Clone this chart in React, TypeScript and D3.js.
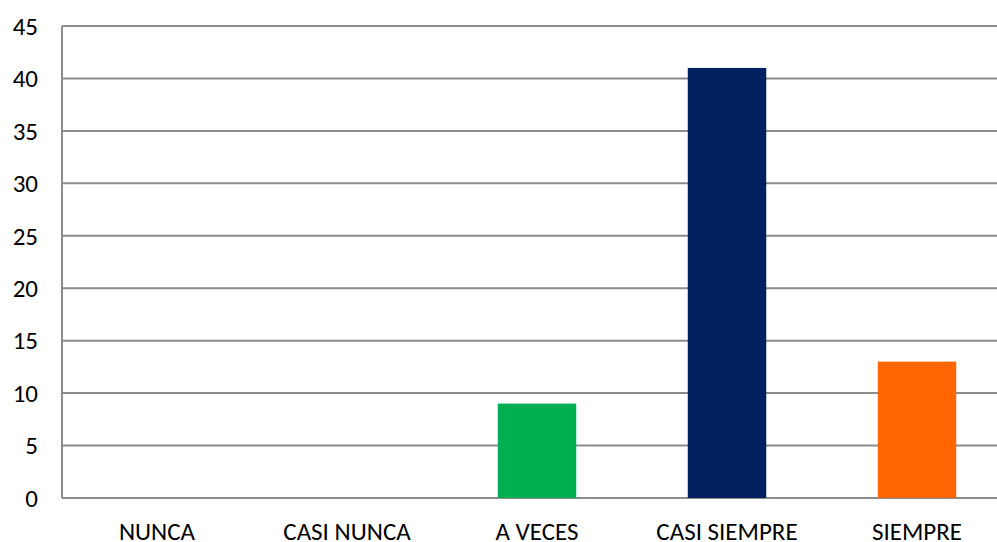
import React from "react";
import * as d3 from "d3";

const categories = ["NUNCA", "CASI NUNCA", "A VECES", "CASI SIEMPRE", "SIEMPRE"];
const values = [0, 0, 9, 41, 13];
const barColors = ["#4472c4", "#ed7d31", "#00b050", "#002060", "#ff6600"];
const yTicks = [0, 5, 10, 15, 20, 25, 30, 35, 40, 45];

const width = 997;
const height = 542;
const margin = { top: 26, right: -15, bottom: 44, left: 62 };

export default function App() {
  const x = d3
    .scaleBand()
    .domain(categories)
    .range([margin.left, width - margin.right])
    .paddingInner(0.587)
    .paddingOuter(0.2935);
  const y = d3
    .scaleLinear()
    .domain([0, 45])
    .range([height - margin.bottom, margin.top]);

  const font = "Carlito, Calibri, 'Liberation Sans', Arial, sans-serif";

  return (
    <svg
      width={width}
      height={height}
      style={{ position: "absolute", left: 0, top: 0, background: "#fff" }}
      fontFamily={font}
    >
      {yTicks.map((t) => (
        <g key={t}>
          <line
            x1={margin.left}
            x2={width}
            y1={y(t)}
            y2={y(t)}
            stroke="#8c8c8c"
            strokeWidth={2}
          />
          <text
            x={38}
            y={y(t)}
            dy="0.35em"
            textAnchor="end"
            fontSize={25}
            fill="#000"
          >
            {t}
          </text>
        </g>
      ))}
      <line
        x1={margin.left}
        x2={margin.left}
        y1={y(45)}
        y2={y(0)}
        stroke="#8c8c8c"
        strokeWidth={2}
      />
      {categories.map((c, i) => (
        <rect
          key={c}
          x={x(c)}
          y={y(values[i])}
          width={x.bandwidth()}
          height={y(0) - y(values[i])}
          fill={barColors[i]}
        />
      ))}
      {categories.map((c) => (
        <text
          key={c}
          x={(x(c) ?? 0) + x.bandwidth() / 2}
          y={540}
          textAnchor="middle"
          fontSize={25}
          fill="#000"
        >
          {c}
        </text>
      ))}
    </svg>
  );
}
